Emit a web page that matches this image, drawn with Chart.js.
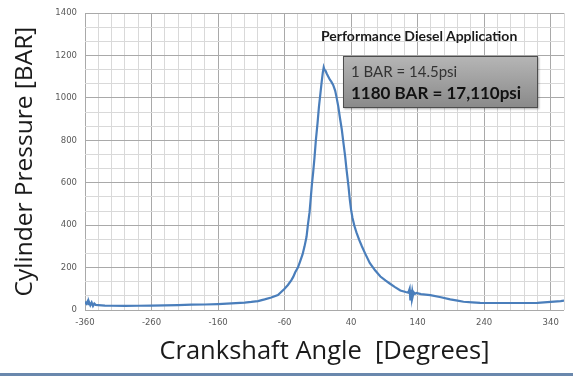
<!DOCTYPE html>
<html>
<head>
<meta charset="utf-8">
<script src="https://cdn.jsdelivr.net/npm/chart.js@4.4.1/dist/chart.umd.min.js"></script>
<style>
  html, body { margin: 0; padding: 0; background: #fff; }
  #wrap { position: relative; width: 573px; height: 376px; overflow: hidden; }
  #edge { position: absolute; left: 0; top: 373px; width: 573px; height: 3px; background: #6a88ad; }
  #note-title {
    position: absolute; left: 321px; top: 27px;
    font: bold 14px Lato, sans-serif; color: #1a1a1a; white-space: nowrap;
  }
  #note-box {
    position: absolute; left: 343px; top: 56px; width: 193px; height: 50px;
    border: 1px solid #4d4d4d;
    background: linear-gradient(#b5b5b5, #8a8a8a);
    box-shadow: 1px 1px 2px rgba(0,0,0,0.35);
  }
  #note-box .l1 { position: absolute; left: 7px; top: 5px; font: 15px Lato, sans-serif; color: #333; white-space: nowrap; }
  #note-box .l2 { position: absolute; left: 7px; top: 25px; font: bold 17px Lato, sans-serif; color: #111; white-space: nowrap; }
</style>
</head>
<body>
<div id="wrap">
  <canvas id="pressureChart"></canvas>
  <div id="note-title">Performance Diesel Application</div>
  <div id="note-box">
    <div class="l1">1 BAR = 14.5psi</div>
    <div class="l2">1180 BAR = 17,110psi</div>
  </div>
  <div id="edge"></div>
</div>
<script>
// Crank angle (deg) and cylinder pressure (BAR)
const crankAngle = [
  -360, -358, -356, -355, -354, -352, -350, -348, -346, -344, -340, -330, -320, -300,
  -280, -260, -240, -220, -200, -180, -160, -140, -120, -110, -100, -90, -80, -70,
  -60, -55, -50, -47, -44, -40, -37, -33, -30, -27, -25, -22.5, -21, -19, -17, -15,
  -13, -10.5, -8.3, -6, -4.2, -2.5, -1.2, 0, 1.5, 3.3, 5, 8.3, 10, 13, 16, 18, 20.7,
  23, 26, 28, 31, 33, 36, 38, 40, 42, 45, 48, 52, 56, 61, 68, 76, 84, 92, 98, 106, 114, 122,
  126, 128, 129, 130, 131, 132, 133, 134, 136, 138, 145, 159, 175, 189, 200, 209,
  222, 234, 260, 290, 320, 340, 355, 360
];
const pressure = [
  39, 30, 42, 28, 38, 22, 35, 19, 30, 24, 23, 21, 20, 19,
  20, 21, 22, 23, 25, 26, 28, 31, 35, 38, 42, 50, 59, 71,
  100, 118, 140, 156, 178, 200, 226, 262, 300, 345, 400, 460, 515, 590, 650, 720,
  800, 880, 960, 1025, 1077, 1120, 1144, 1132, 1128, 1115, 1105, 1085, 1078, 1061, 1035, 1005, 960,
  910, 851, 800, 726, 665, 585, 522, 472, 435, 396, 366, 332, 302, 267, 222, 187, 158, 138, 125, 108, 92, 85,
  82, 100, 50, 95, 60, 88, 70, 84, 76, 80, 75, 70, 60, 50, 44, 39,
  36, 34, 33, 33, 34, 38, 42, 44
];

// Axis setup
const xMin = -360, xMax = 360, xMinor = 20, xMajor = 100;
const yMin = 0, yMax = 1400, yMajor = 200, yMinorPerMajor = 6;

const majorGrid = '#a9a9a9';
const minorGrid = '#d9d9d9';
const labelColor = '#595959';
const tickFont = { family: 'Verdana, "DejaVu Sans", sans-serif', size: 8.5 };
const titleFont = { family: '"Open Sans", sans-serif', size: 24.5 };

const points = crankAngle.map((a, i) => ({ x: a, y: pressure[i] }));

const isXMajor = v => Math.abs(((v - xMin) % xMajor)) < 1e-6;
const isYMajor = v => Math.abs(v / yMajor - Math.round(v / yMajor)) < 1e-6;

const ctx = document.getElementById('pressureChart').getContext('2d');
new Chart(ctx, {
  type: 'line',
  data: {
    datasets: [{
      data: points,
      borderColor: '#4a7ebb',
      borderWidth: 2.2,
      pointRadius: 0,
      tension: 0,
      fill: false
    }]
  },
  options: {
    responsive: true,
    maintainAspectRatio: false,
    animation: false,
    layout: { padding: { top: 11, right: 9, left: 0, bottom: 0 } },
    plugins: { legend: { display: false }, tooltip: { enabled: false } },
    scales: {
      x: {
        type: 'linear',
        min: xMin, max: xMax,
        ticks: {
          stepSize: xMinor,
          autoSkip: false,
          maxRotation: 0,
          padding: 8,
          color: labelColor,
          font: tickFont,
          callback: v => isXMajor(v) && v < xMax ? String(v) : ''
        },
        grid: {
          drawTicks: false,
          color: c => isXMajor(c.tick.value) ? majorGrid : minorGrid
        },
        border: { display: false },
        title: {
          display: true,
          text: 'Crankshaft Angle  [Degrees]',
          color: '#1a1a1a',
          font: { family: titleFont.family, size: 25.5 },
          padding: { top: 0, bottom: 9 }
        },
        afterFit: s => { s.height = 66; }
      },
      y: {
        min: yMin, max: yMax,
        afterBuildTicks: s => {
          const t = [];
          for (let i = 0; i <= (yMax / yMajor) * yMinorPerMajor; i++) {
            t.push({ value: i * yMajor / yMinorPerMajor });
          }
          s.ticks = t;
        },
        ticks: {
          padding: 8,
          color: labelColor,
          font: tickFont,
          callback: v => isYMajor(v) ? String(Math.round(v)) : ''
        },
        grid: {
          drawTicks: false,
          color: c => isYMajor(c.tick.value) ? majorGrid : minorGrid
        },
        border: { display: false },
        title: {
          display: true,
          text: 'Cylinder Pressure [BAR]',
          color: '#1a1a1a',
          font: titleFont,
          padding: { top: 10, bottom: 0 }
        },
        afterFit: s => { s.width = 85; }
      }
    }
  }
});
</script>
</body>
</html>
